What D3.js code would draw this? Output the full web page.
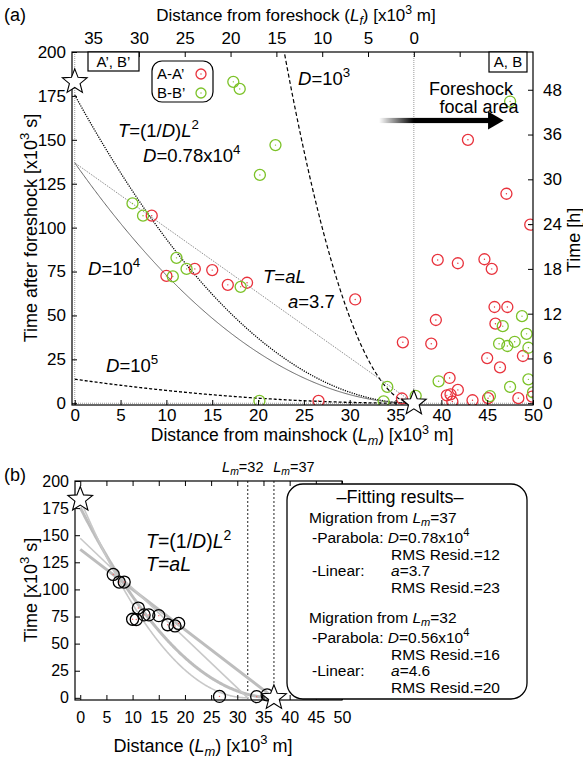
<!DOCTYPE html>
<html>
<head>
<meta charset="utf-8">
<title>Migration plot</title>
<script src="https://cdn.jsdelivr.net/npm/d3@7"></script>
<style>
  body { margin: 0; background: #fff; }
  svg { display: block; font-family: "Liberation Sans", Arial, sans-serif; }
  .axis path { display: none; }
  .axis line { stroke: #000; stroke-width: 1; }
  .axis text { font-family: "Liberation Sans", Arial, sans-serif; fill: #000; }
</style>
</head>
<body>
<div id="chart"></div>
<script>
// ---- data ----
// A-A' (red) : distance from mainshock [km], time after foreshock [x10^3 s]
var aaLm = [8.4, 10.0, 13.1, 15.0, 16.7, 18.8, 26.6, 30.6, 35.7, 35.8, 38.9, 39.4, 39.6, 41.8, 44.7, 45.5,
            45.8, 47.2, 45.9, 48.9, 45.0, 46.4, 40.9, 41.8, 40.6, 41.0, 41.2, 43.4, 45.1, 48.4, 49.9, 49.7, 42.9, 47.1];
var aaT  = [106.8, 72.5, 76.5, 75.8, 67.4, 68.6, 1.3, 59.1, 2.7, 34.7, 33.9, 47.4, 81.6, 79.7, 82.0, 76.5,
            54.8, 54.8, 45.3, 26.9, 25.7, 20.4, 14.4, 7.6, 4.5, 5.1, 1.0, 1.7, 2.9, 2.9, 3.8, 101.7, 150, 119.3];
// B-B' (green)
var bbLm = [17.3, 18.0, 21.9, 20.2, 6.3, 7.45, 11.1, 10.7, 12.2, 18.1, 20.15, 34.1, 33.7, 37.2, 39.7, 45.3,
            47.5, 49.5, 50.0, 48.8, 46.7, 49.3, 46.3, 47.2, 48.0, 49.5, 47.5];
var bbT  = [183, 179, 147, 130, 113.8, 106.8, 82.8, 72.2, 76.5, 66.3, 1.3, 9.3, 1.1, 4.2, 12.5, 4.1,
            9.3, 13.6, 6.2, 49.6, 43.9, 39.5, 33.9, 32.6, 35.0, 31.6, 171.8];
// events used for the fit (panel b)
var fitLm = [6.3, 7.45, 8.4, 11.1, 10.0, 10.7, 12.2, 13.1, 15.0, 16.7, 18.1, 18.8, 26.6, 33.7, 35.7];
var fitT  = [113.8, 106.8, 106.8, 82.8, 72.5, 72.2, 76.5, 76.5, 75.8, 67.4, 66.3, 68.6, 1.3, 1.1, 2.7];

// stars: mainshock / foreshock
var starLm = [0, 37];
var starT  = [183, 0];

// model curves, panel a (origin Lm=37)
var originA = 37;
var diffD = [1e3, 0.78e4, 1e4, 1e5];
var linA = 3.7;
// fits, panel b
var fitOrigin = [37, 32];
var fitD = [0.78e4, 0.56e4];
var fitA = [3.7, 4.6];
var rmsPara = [12, 16];
var rmsLin = [23, 20];

// ticks
var timeTicks = d3.range(0, 201, 25);
var distTicks = d3.range(0, 51, 5);
var lfTicks = [35, 30, 25, 20, 15, 10, 5, 0, -5];
var hourTickPos = [0, 25.5, 51, 76.5, 102, 127.5, 153, 178.5];
var hourTickLabels = ["0", "6", "12", "18", "24", "30", "36", "48"];

var W = 583, H = 758;
var red = "#e8323c", green = "#7cc228";

var svg = d3.select("#chart").append("svg").attr("width", W).attr("height", H);
svg.append("rect").attr("width", W).attr("height", H).attr("fill", "#fff");

var defs = svg.append("defs");

// rich text helper: segments with italic / sup / sub
function rich(g, x, y, segs, size, anchor) {
  var t = g.append("text").attr("x", x).attr("y", y)
    .attr("font-size", size).attr("text-anchor", anchor || "start");
  var shift = 0;
  segs.forEach(function(s) {
    if (typeof s === "string") s = {t: s};
    var ts = t.append("tspan").text(s.t);
    var target = s.sup ? -size * 0.42 : (s.sub ? size * 0.22 : 0);
    if (target !== shift) { ts.attr("dy", target - shift); shift = target; }
    if (s.sup || s.sub) ts.attr("font-size", size * 0.72);
    if (s.i) ts.attr("font-style", "italic");
  });
  return t;
}

function starPath(cx, cy, R, r) {
  var pts = [];
  for (var k = 0; k < 10; k++) {
    var a = -Math.PI / 2 + k * Math.PI / 5;
    var rr = k % 2 === 0 ? R : r;
    pts.push([cx + rr * Math.cos(a), cy + rr * Math.sin(a)]);
  }
  return "M" + pts.join("L") + "Z";
}

// ================= panel (a) =================
var xA = d3.scaleLinear().domain([-0.3, 50]).range([72, 533]);
var yA = d3.scaleLinear().domain([-1, 200]).range([405, 52]);
var xTop = d3.scaleLinear().domain([originA + 0.3, originA - 50]).range([72, 533]);

var gA = svg.append("g");

defs.append("clipPath").attr("id", "clipA").append("rect")
  .attr("x", 72).attr("y", 52).attr("width", 461).attr("height", 353);

var plotA = gA.append("g").attr("clip-path", "url(#clipA)");

// grey reference lines
plotA.append("line").attr("x1", xA(0)).attr("x2", xA(0)).attr("y1", 52).attr("y2", 405)
  .attr("stroke", "#999").attr("stroke-dasharray", "1,1");
plotA.append("line").attr("x1", xA(originA)).attr("x2", xA(originA)).attr("y1", 52).attr("y2", 405)
  .attr("stroke", "#999").attr("stroke-dasharray", "1,1");
plotA.append("line").attr("x1", 72).attr("x2", 533).attr("y1", yA(0)).attr("y2", yA(0))
  .attr("stroke", "#999").attr("stroke-dasharray", "1,1");

var lmSamples = d3.range(0, originA + 0.001, 0.1);
function parab(D, o) { return function(l) { return Math.pow((o - l) * 1e3, 2) / D / 1e3; }; }
var lineA = d3.line().x(function(d) { return xA(d[0]); }).y(function(d) { return yA(d[1]); });

var curveStyle = [
  {stroke: "#000", w: 1.2, dash: "4,2.5"},   // D=1e3
  {stroke: "#000", w: 1.3, dash: "1.2,1.2"}, // D=0.78e4
  {stroke: "#555", w: 0.9, dash: null},      // D=1e4
  {stroke: "#000", w: 1.3, dash: "3,2"}      // D=1e5
];
diffD.forEach(function(D, i) {
  var f = parab(D, originA);
  plotA.append("path")
    .attr("d", lineA(lmSamples.map(function(l) { return [l, f(l)]; })))
    .attr("fill", "none").attr("stroke", curveStyle[i].stroke)
    .attr("stroke-width", curveStyle[i].w)
    .attr("stroke-dasharray", curveStyle[i].dash);
});
plotA.append("path")
  .attr("d", lineA([[0, linA * originA], [originA, 0]]))
  .attr("fill", "none").attr("stroke", "#777").attr("stroke-width", 1)
  .attr("stroke-dasharray", "1,1.2");

// events
function drawPts(g, xs, ys, col, xS, yS, r) {
  var pts = g.append("g");
  xs.forEach(function(l, i) {
    pts.append("circle").attr("cx", xS(l)).attr("cy", yS(ys[i])).attr("r", r)
      .attr("fill", "none").attr("stroke", col).attr("stroke-width", 1.3);
    pts.append("circle").attr("cx", xS(l)).attr("cy", yS(ys[i])).attr("r", 0.7)
      .attr("fill", col === "#000" ? "#e66" : col);
  });
}
drawPts(plotA, aaLm, aaT, red, xA, yA, 5.5);
drawPts(plotA, bbLm, bbT, green, xA, yA, 5.5);

// arrow toward foreshock focal area
var grad = defs.append("linearGradient").attr("id", "arrowGrad")
  .attr("gradientUnits", "userSpaceOnUse")
  .attr("x1", xA(33.2)).attr("x2", xA(originA)).attr("y1", 0).attr("y2", 0);
grad.append("stop").attr("offset", 0).attr("stop-color", "#000").attr("stop-opacity", 0);
grad.append("stop").attr("offset", 1).attr("stop-color", "#000").attr("stop-opacity", 1);
var ay = yA(161);
gA.append("rect").attr("x", xA(33.2)).attr("y", ay - 2.6).attr("width", xA(45.2) - xA(33.2)).attr("height", 5.2)
  .attr("fill", "url(#arrowGrad)");
gA.append("path")
  .attr("d", "M" + xA(45.1) + "," + (ay - 9) + "L" + xA(46.8) + "," + ay + "L" + xA(45.1) + "," + (ay + 9) + "Z")
  .attr("fill", "#000");

// frame
gA.append("rect").attr("x", 72).attr("y", 52).attr("width", 461).attr("height", 353)
  .attr("fill", "none").attr("stroke", "#000").attr("stroke-width", 1.2);

// axes
gA.append("g").attr("class", "axis").attr("transform", "translate(0,405)")
  .call(d3.axisBottom(xA).tickValues(distTicks).tickSizeInner(-5).tickSizeOuter(0).tickPadding(4))
  .selectAll("text").attr("font-size", 17);
gA.append("g").attr("class", "axis").attr("transform", "translate(0,52)")
  .call(d3.axisTop(xTop).tickValues(lfTicks).tickSizeInner(-5).tickSizeOuter(0).tickPadding(8)
    .tickFormat(function(d) { return d < 0 ? "" : d; }))
  .selectAll("text").attr("font-size", 17);
gA.append("g").attr("class", "axis").attr("transform", "translate(72,0)")
  .call(d3.axisLeft(yA).tickValues(timeTicks).tickSizeInner(-5).tickSizeOuter(0).tickPadding(6))
  .selectAll("text").attr("font-size", 17);
gA.append("g").attr("class", "axis").attr("transform", "translate(533,0)")
  .call(d3.axisRight(yA).tickValues(hourTickPos).tickSizeInner(-5).tickSizeOuter(0).tickPadding(10)
    .tickFormat(function(d, i) { return hourTickLabels[i]; }))
  .selectAll("text").attr("font-size", 17);

// stars
starLm.forEach(function(l, i) {
  gA.append("path").attr("d", starPath(xA(l), yA(starT[i]), 13, 5.6))
    .attr("fill", "#fff").attr("stroke", "#000").attr("stroke-width", 1.1);
});

// titles
rich(gA, 4, 21, ["(a)"], 18);
rich(gA, 296, 21, ["Distance from foreshock (", {t: "L", i: true}, {t: "f", sub: true, i: true}, ") [x10", {t: "3", sup: true}, " m]"], 17, "middle");
rich(gA, 302, 441, ["Distance from mainshock (", {t: "L", i: true}, {t: "m", sub: true, i: true}, ") [x10", {t: "3", sup: true}, " m]"], 17.5, "middle");
var gl = gA.append("g").attr("transform", "translate(37,228) rotate(-90)");
rich(gl, 0, 0, ["Time after foreshock [x10", {t: "3", sup: true}, " s]"], 18, "middle");
var gr = gA.append("g").attr("transform", "translate(580,240) rotate(-90)");
rich(gr, 0, 0, ["Time [h]"], 18, "middle");

// region boxes
gA.append("rect").attr("x", 88).attr("y", 52).attr("width", 51).attr("height", 19)
  .attr("fill", "#fff").attr("stroke", "#000").attr("stroke-width", 1.2);
rich(gA, 113.5, 67, ["A\u2019, B\u2019"], 15, "middle");
gA.append("rect").attr("x", 489).attr("y", 52).attr("width", 38).attr("height", 20)
  .attr("fill", "#fff").attr("stroke", "#000").attr("stroke-width", 1.2);
rich(gA, 508, 67, ["A, B"], 15, "middle");

// legend
gA.append("rect").attr("x", 152).attr("y", 61).attr("width", 61).attr("height", 41).attr("rx", 10)
  .attr("fill", "#fff").attr("stroke", "#000").attr("stroke-width", 1.2);
var legendNames = ["A-A\u2019", "B-B\u2019"], legendCols = [red, green];
legendNames.forEach(function(n, i) {
  rich(gA, 157, 79 + i * 19, [n], 15);
  gA.append("circle").attr("cx", 201).attr("cy", 74 + i * 19).attr("r", 5)
    .attr("fill", "none").attr("stroke", legendCols[i]).attr("stroke-width", 1.3);
  gA.append("circle").attr("cx", 201).attr("cy", 74 + i * 19).attr("r", 0.7).attr("fill", legendCols[i]);
});

// curve labels
var lab = 18.5;
rich(gA, 118, 137, [{t: "T", i: true}, "=(1/", {t: "D", i: true}, ")", {t: "L", i: true}, {t: "2", sup: true}], lab);
rich(gA, 143, 162, [{t: "D", i: true}, "=0.78x10", {t: "4", sup: true}], lab);
rich(gA, 298, 85, [{t: "D", i: true}, "=10", {t: "3", sup: true}], lab);
rich(gA, 88, 275, [{t: "D", i: true}, "=10", {t: "4", sup: true}], lab);
rich(gA, 106, 372, [{t: "D", i: true}, "=10", {t: "5", sup: true}], lab);
rich(gA, 263, 283, [{t: "T", i: true}, "=", {t: "a", i: true}, {t: "L", i: true}], lab);
rich(gA, 288, 308, [{t: "a", i: true}, "=3.7"], lab);
rich(gA, 471, 95, ["Foreshock"], 18, "middle");
rich(gA, 479, 113, ["focal area"], 18, "middle");

// ================= panel (b) =================
var xB = d3.scaleLinear().domain([-1, 50]).range([75, 342]);
var yB = d3.scaleLinear().domain([-2, 200]).range([700, 481]);
var gB = svg.append("g");
var lineB = d3.line().x(function(d) { return xB(d[0]); }).y(function(d) { return yB(d[1]); });

// migration origin markers
fitOrigin.forEach(function(o) {
  gB.append("line").attr("x1", xB(o)).attr("x2", xB(o)).attr("y1", 481).attr("y2", 700)
    .attr("stroke", "#222").attr("stroke-width", 1).attr("stroke-dasharray", "2,2");
  rich(gB, xB(o) + (o === 37 ? 20 : -5), 472, [{t: "L", i: true}, {t: "m", sub: true, i: true}, "=" + o], 14.5, "middle");
});

// fitted curves: thick = from 37, thin = from 32
fitOrigin.forEach(function(o, i) {
  var f = parab(fitD[i], o);
  var samples = d3.range(0, o + 0.001, 0.1);
  var sw = i === 0 ? 3 : 1.6, col = i === 0 ? "#bdbdbd" : "#c8c8c8";
  gB.append("path").attr("d", lineB(samples.map(function(l) { return [l, f(l)]; })))
    .attr("fill", "none").attr("stroke", col).attr("stroke-width", sw);
  gB.append("path").attr("d", lineB([[0, fitA[i] * o], [o, 0]]))
    .attr("fill", "none").attr("stroke", col).attr("stroke-width", sw);
});

drawPts(gB, fitLm, fitT, "#000", xB, yB, 6);

gB.append("rect").attr("x", 75).attr("y", 481).attr("width", 267).attr("height", 219)
  .attr("fill", "none").attr("stroke", "#000").attr("stroke-width", 1.2);
gB.append("g").attr("class", "axis").attr("transform", "translate(0,700)")
  .call(d3.axisBottom(xB).tickValues(distTicks).tickSizeInner(-5).tickSizeOuter(0).tickPadding(12))
  .selectAll("text").attr("font-size", 16);
gB.append("g").attr("class", "axis").attr("transform", "translate(0,481)")
  .call(d3.axisTop(xB).tickValues(distTicks).tickSizeInner(-5).tickSizeOuter(0).tickFormat(""));
gB.append("g").attr("class", "axis").attr("transform", "translate(75,0)")
  .call(d3.axisLeft(yB).tickValues(timeTicks).tickSizeInner(-5).tickSizeOuter(0).tickPadding(6))
  .selectAll("text").attr("font-size", 16);

starLm.forEach(function(l, i) {
  gB.append("path").attr("d", starPath(xB(l), yB(starT[i]), 13, 5.6))
    .attr("fill", "#fff").attr("stroke", "#000").attr("stroke-width", 1.1);
});

rich(gB, 4, 481, ["(b)"], 18);
rich(gB, 146, 548, [{t: "T", i: true}, "=(1/", {t: "D", i: true}, ")", {t: "L", i: true}, {t: "2", sup: true}], 19.5);
rich(gB, 146, 571, [{t: "T", i: true}, "=", {t: "a", i: true}, {t: "L", i: true}], 19.5);
rich(gB, 203, 752, ["Distance (", {t: "L", i: true}, {t: "m", sub: true, i: true}, ") [x10", {t: "3", sup: true}, " m]"], 18, "middle");
var gbl = gB.append("g").attr("transform", "translate(37,590) rotate(-90)");
rich(gbl, 0, 0, ["Time [x10", {t: "3", sup: true}, " s]"], 18, "middle");

// fitting results box
var box = gB.append("g");
box.append("rect").attr("x", 287).attr("y", 484).attr("width", 240).attr("height", 215).attr("rx", 16)
  .attr("fill", "#fff").attr("stroke", "#000").attr("stroke-width", 1.3);
rich(box, 400, 503, ["\u2013Fitting results\u2013"], 18, "middle");
fitOrigin.forEach(function(o, i) {
  var y0 = 523 + i * 100;
  rich(box, 309, y0, ["Migration from ", {t: "L", i: true}, {t: "m", sub: true, i: true}, "=" + o], 15.5);
  rich(box, 312, y0 + 20, ["-Parabola: ", {t: "D", i: true}, "=" + (fitD[i] / 1e4).toFixed(2) + "x10", {t: "4", sup: true}], 15.5);
  rich(box, 391, y0 + 37, ["RMS Resid.=" + rmsPara[i]], 15.5);
  rich(box, 312, y0 + 53, ["-Linear:"], 15.5);
  rich(box, 391, y0 + 53, [{t: "a", i: true}, "=" + fitA[i]], 15.5);
  rich(box, 391, y0 + 70, ["RMS Resid.=" + rmsLin[i]], 15.5);
});
</script>
</body>
</html>
